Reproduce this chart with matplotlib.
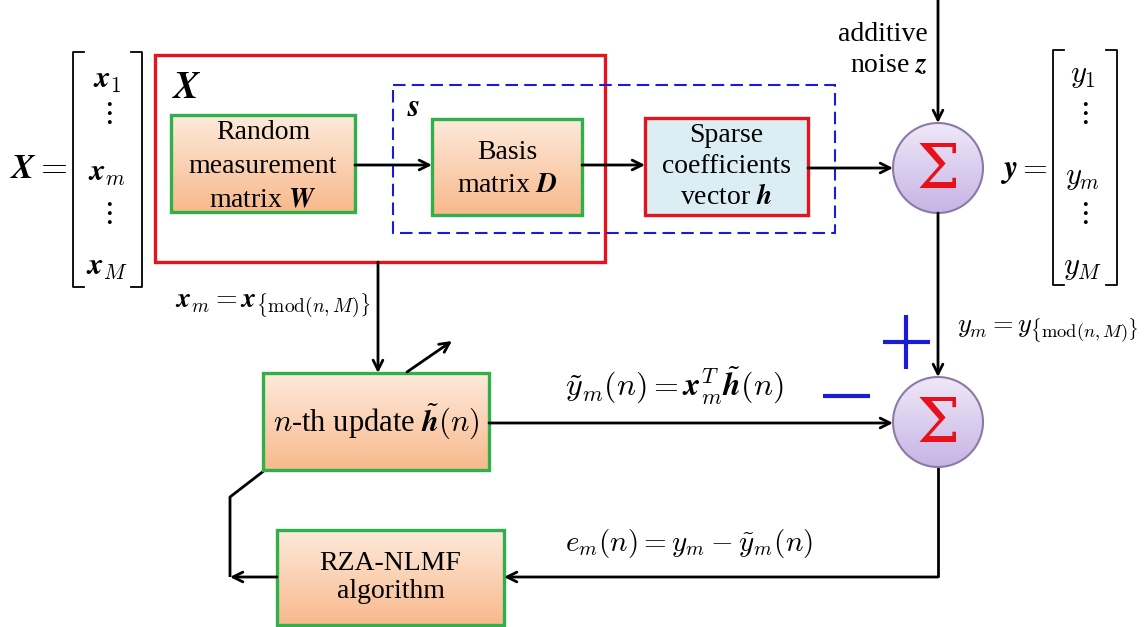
import numpy as np
import matplotlib
matplotlib.use("Agg")
import matplotlib.pyplot as plt
from matplotlib.patches import Rectangle, Ellipse
from matplotlib.colors import LinearSegmentedColormap

plt.rcParams['font.family'] = ['Liberation Serif', 'DejaVu Serif']
plt.rcParams['mathtext.fontset'] = 'cm'

# labels of the diagram
box_labels = ["Random\nmeasurement\nmatrix $\\boldsymbol{W}$",
              "Basis\nmatrix $\\boldsymbol{D}$",
              "Sparse\ncoefficients\nvector $\\boldsymbol{h}$",
              "$n$-th update $\\tilde{\\boldsymbol{h}}(n)$",
              "RZA-NLMF\nalgorithm"]
x_entries = ["$\\boldsymbol{x}_1$", "$\\vdots$", "$\\boldsymbol{x}_m$", "$\\vdots$", "$\\boldsymbol{x}_M$"]
y_entries = ["$y_1$", "$\\vdots$", "$y_m$", "$\\vdots$", "$y_M$"]
eq_xm = "$\\boldsymbol{x}_m = \\boldsymbol{x}_{\\{\\mathrm{mod}(n,M)\\}}$"
eq_ym = "$y_m = y_{\\{\\mathrm{mod}(n,M)\\}}$"
eq_yt = "$\\tilde{y}_m(n) = \\boldsymbol{x}_m^T\\tilde{\\boldsymbol{h}}(n)$"
eq_e = "$e_m(n) = y_m - \\tilde{y}_m(n)$"
noise_label = "additive\nnoise $\\boldsymbol{z}$"

W, H = 1148, 627
fig = plt.figure(figsize=(W / 100, H / 100), dpi=100)
ax = fig.add_axes([0, 0, 1, 1])
ax.axis('off')

orange = LinearSegmentedColormap.from_list('o', ['#fdeadb', '#f8b98c'])
blue = LinearSegmentedColormap.from_list('b', ['#dbeef4', '#dbeef4'])
purple = LinearSegmentedColormap.from_list('p', ['#efe8f8', '#c7b4e4'])
grad = np.linspace(0, 1, 100).reshape(-1, 1)


def box(x0, y0, x1, y1, label, edge, cmap, fs=19, ls=1.45, dy=0):
    im = ax.imshow(grad, cmap=cmap, extent=(x0, x1, y1, y0), origin='upper', aspect='auto', zorder=2)
    r = Rectangle((x0, y0), x1 - x0, y1 - y0, fill=False, ec=edge, lw=2.4, zorder=3)
    ax.add_patch(r)
    im.set_clip_path(r)
    ax.text((x0 + x1) / 2, (y0 + y1) / 2 + dy, label, ha='center', va='center', fontsize=fs,
            linespacing=ls, zorder=4)


def sigma(cx, cy, r):
    e = Ellipse((cx, cy), 2 * r, 2 * r, fill=False, ec='#8a7aa6', lw=1.5, zorder=3)
    ax.add_patch(e)
    im = ax.imshow(grad, cmap=purple, extent=(cx - r, cx + r, cy + r, cy - r), origin='upper',
                   aspect='auto', zorder=2)
    im.set_clip_path(e)
    ax.text(cx, cy + 3, "\u03a3", color='#e8101a', fontsize=44, ha='center', va='center',
            family='DejaVu Serif', zorder=4)


def arrow(x0, y0, x1, y1):
    ax.annotate('', xy=(x1, y1), xytext=(x0, y0),
                arrowprops=dict(arrowstyle='->,head_length=0.7,head_width=0.35', lw=2, color='black',
                                shrinkA=0, shrinkB=0), zorder=5)


def line(xs, ys, color='black', lw=2):
    ax.plot(xs, ys, color=color, lw=lw, zorder=1, solid_capstyle='butt')


def matrix(xl, xr, y0, y1, entries, ys, cx):
    for xb, d in ((xl, 1), (xr, -1)):
        ax.plot([xb + d * 11, xb, xb, xb + d * 11], [y0, y0, y1, y1], color='black', lw=1.3)
    for e, yy in zip(entries, ys):
        ax.text(cx, yy, e, ha='center', va='center', fontsize=22)


# outer red box X and blue dashed box s
ax.add_patch(Rectangle((155, 55), 450, 207, fill=False, ec='#e3141c', lw=2.4, zorder=3))
ax.text(172, 88, "$\\boldsymbol{X}$", fontsize=28, ha='left', va='center')
ax.add_patch(Rectangle((393, 85), 442, 148, fill=False, ec='#1b1bd6', lw=1.5, ls=(0, (6, 3)), zorder=3))
ax.text(407, 108, "$\\boldsymbol{s}$", fontsize=23, ha='left', va='center')

box(171, 115, 355, 212, box_labels[0], '#2fb04a', orange, fs=20, dy=3)
box(432, 119, 582, 215, box_labels[1], '#2fb04a', orange, fs=20, dy=2)
box(645, 118, 808, 215, box_labels[2], '#e3141c', blue, fs=20, ls=1.3)
box(263, 373, 489, 470, box_labels[3], '#2fb04a', orange, fs=22)
box(277, 530, 504, 625, box_labels[4], '#2fb04a', orange, fs=20, ls=1.2)

sigma(938, 168, 45)
sigma(938, 422, 45)

# top path
arrow(355, 165, 432, 165)
arrow(582, 165, 645, 165)
arrow(808, 168, 893, 168)
arrow(938, 0, 938, 123)
ax.text(928, 50, noise_label, ha='right', va='center', fontsize=20, linespacing=1.3)

# down to second summation
arrow(938, 213, 938, 377)
line([883, 930], [342, 342], color='#1b1bd6', lw=3)
line([906, 906], [315, 369], color='#1b1bd6', lw=3)
line([823, 870], [396, 396], color='#1b1bd6', lw=3)
ax.text(957, 330, eq_ym, ha='left', va='center', fontsize=19)

# update path
arrow(378, 262, 378, 373)
ax.text(175, 306, eq_xm, ha='left', va='center', fontsize=20)
arrow(407, 372, 452, 341)
arrow(489, 423, 893, 423)
ax.text(565, 385, eq_yt, ha='left', va='center', fontsize=23)

# error feedback
line([938, 938], [467, 577])
arrow(938, 577, 504, 577)
ax.text(565, 543, eq_e, ha='left', va='center', fontsize=21)
line([265, 230, 230], [470, 497, 577])
arrow(277, 577, 230, 577)

# matrices
ax.text(10, 170, "$\\boldsymbol{X} =$", fontsize=25, ha='left', va='center')
matrix(73, 142, 52, 287, x_entries, [80, 113, 173, 213, 268], 107)
ax.text(1000, 172, "$\\boldsymbol{y} =$", fontsize=23, ha='left', va='center')
matrix(1053, 1117, 50, 285, y_entries, [75, 113, 178, 213, 268], 1083)

ax.set_xlim(0, W)
ax.set_ylim(H, 0)
fig.savefig("out.png", dpi=100, facecolor='white')
